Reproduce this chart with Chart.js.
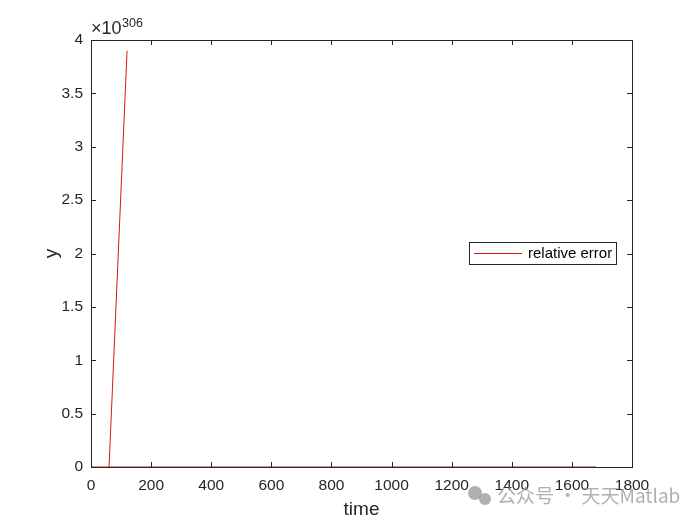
<!DOCTYPE html>
<html><head><meta charset="utf-8">
<script src="https://cdn.jsdelivr.net/npm/chart.js@4/dist/chart.umd.min.js"></script>
<style>html,body{margin:0;padding:0;background:#fff}#wrap{width:700px;height:525px;position:relative}</style>
</head><body><div id="wrap"><canvas id="c" width="700" height="525"></canvas></div>
<script>
// ---- data (y values in units of 10^306) ----
const SERIES_NAME = 'relative error';
const X_LABEL = 'time';
const Y_LABEL = 'y';
const Y_EXPONENT = '306';
const WATERMARK = '公众号 · 天天Matlab';
const baselineTime  = [0, 60, 1680];
const baselineValue = [0, 0, 0];
const spikeTime  = [60, 120];
const spikeValue = [0, 3.9];
const xTicks = [0, 200, 400, 600, 800, 1000, 1200, 1400, 1600, 1800];
const yTicks = [0, 0.5, 1, 1.5, 2, 2.5, 3, 3.5, 4];

const FONT = '"Liberation Sans", Arial, Helvetica, sans-serif';
const AX = '#262626';
const LINE = 'rgb(215,25,25)';

const toXY = (xs, ys) => xs.map((x, i) => ({x: x, y: ys[i]}));

const matlabBox = {
  id: 'matlabBox',
  afterDraw(chart) {
    const ctx = chart.ctx, a = chart.chartArea;
    const xs = chart.scales.x, ys = chart.scales.y;
    ctx.save();
    ctx.strokeStyle = AX; ctx.lineWidth = 1;
    ctx.strokeRect(Math.round(a.left) + 0.5, Math.round(a.top) + 0.5,
                   Math.round(a.right - a.left), Math.round(a.bottom - a.top));
    const L = 5;
    ctx.beginPath();
    xTicks.forEach(v => {
      const p = Math.round(xs.getPixelForValue(v)) + 0.5;
      ctx.moveTo(p, a.bottom); ctx.lineTo(p, a.bottom - L);
      ctx.moveTo(p, a.top); ctx.lineTo(p, a.top + L);
    });
    yTicks.forEach(v => {
      const p = Math.round(ys.getPixelForValue(v)) + 0.5;
      ctx.moveTo(a.left, p); ctx.lineTo(a.left + L, p);
      ctx.moveTo(a.right, p); ctx.lineTo(a.right - L, p);
    });
    ctx.stroke();

    // axis labels
    ctx.fillStyle = AX;
    ctx.font = '19px ' + FONT;
    ctx.textAlign = 'center'; ctx.textBaseline = 'middle';
    ctx.fillText(X_LABEL, (a.left + a.right) / 2, 510);
    ctx.save();
    ctx.translate(52, (a.top + a.bottom) / 2);
    ctx.rotate(-Math.PI / 2);
    ctx.fillText(Y_LABEL, 0, 0);
    ctx.restore();

    // exponent
    ctx.textAlign = 'left'; ctx.textBaseline = 'alphabetic';
    ctx.font = '18px ' + FONT;
    ctx.fillText('\u00d710', 91, 34);
    ctx.font = '12.5px ' + FONT;
    ctx.fillText(Y_EXPONENT, 122, 27);

    // legend
    const bx = 469.5, by = 242.5, bw = 147, bh = 22;
    ctx.fillStyle = '#fff';
    ctx.fillRect(bx, by, bw, bh);
    ctx.strokeStyle = AX;
    ctx.strokeRect(bx, by, bw, bh);
    ctx.strokeStyle = LINE;
    ctx.beginPath(); ctx.moveTo(474, by + bh / 2); ctx.lineTo(522, by + bh / 2); ctx.stroke();
    ctx.fillStyle = '#000';
    ctx.font = '15px ' + FONT;
    ctx.textBaseline = 'middle';
    ctx.fillText(SERIES_NAME, 528, by + bh / 2 + 0.5);

    // watermark
    ctx.fillStyle = 'rgba(150,150,150,0.75)';
    ctx.beginPath(); ctx.arc(475, 493, 7, 0, 2 * Math.PI); ctx.fill();
    ctx.beginPath(); ctx.arc(485, 499, 6, 0, 2 * Math.PI); ctx.fill();
    ctx.font = '19px "Noto Sans CJK SC", ' + FONT;
    ctx.textBaseline = 'middle';
    ctx.fillText(WATERMARK, 497, 496);
    ctx.restore();
  }
};

const tickFont = {family: FONT, size: 15.5};

new Chart(document.getElementById('c'), {
  type: 'line',
  data: {
    datasets: [
      {label: SERIES_NAME, data: toXY(baselineTime, baselineValue), borderColor: LINE,
       borderWidth: 1, pointRadius: 0, fill: false, tension: 0, clip: 2},
      {label: SERIES_NAME, data: toXY(spikeTime, spikeValue), borderColor: LINE,
       borderWidth: 1, pointRadius: 0, fill: false, tension: 0, clip: 2}
    ]
  },
  options: {
    responsive: false,
    animation: false,
    devicePixelRatio: 1,
    layout: {padding: {left: 0, right: 68, top: 40, bottom: 0}},
    plugins: {legend: {display: false}, tooltip: {enabled: false}},
    scales: {
      x: {
        type: 'linear', min: 0, max: 1800,
        afterBuildTicks: s => { s.ticks = xTicks.map(v => ({value: v})); },
        afterFit: s => { s.height = 58; },
        grid: {display: false}, border: {display: false},
        ticks: {font: tickFont, color: AX, padding: 1, maxRotation: 0, autoSkip: false,
                callback: v => String(v)}
      },
      y: {
        type: 'linear', min: 0, max: 4,
        afterBuildTicks: s => { s.ticks = yTicks.map(v => ({value: v})); },
        afterFit: s => { s.width = 91; },
        grid: {display: false}, border: {display: false},
        ticks: {font: tickFont, color: AX, padding: 0, autoSkip: false,
                callback: v => String(v)}
      }
    }
  },
  plugins: [matlabBox]
});
</script>
</body></html>
